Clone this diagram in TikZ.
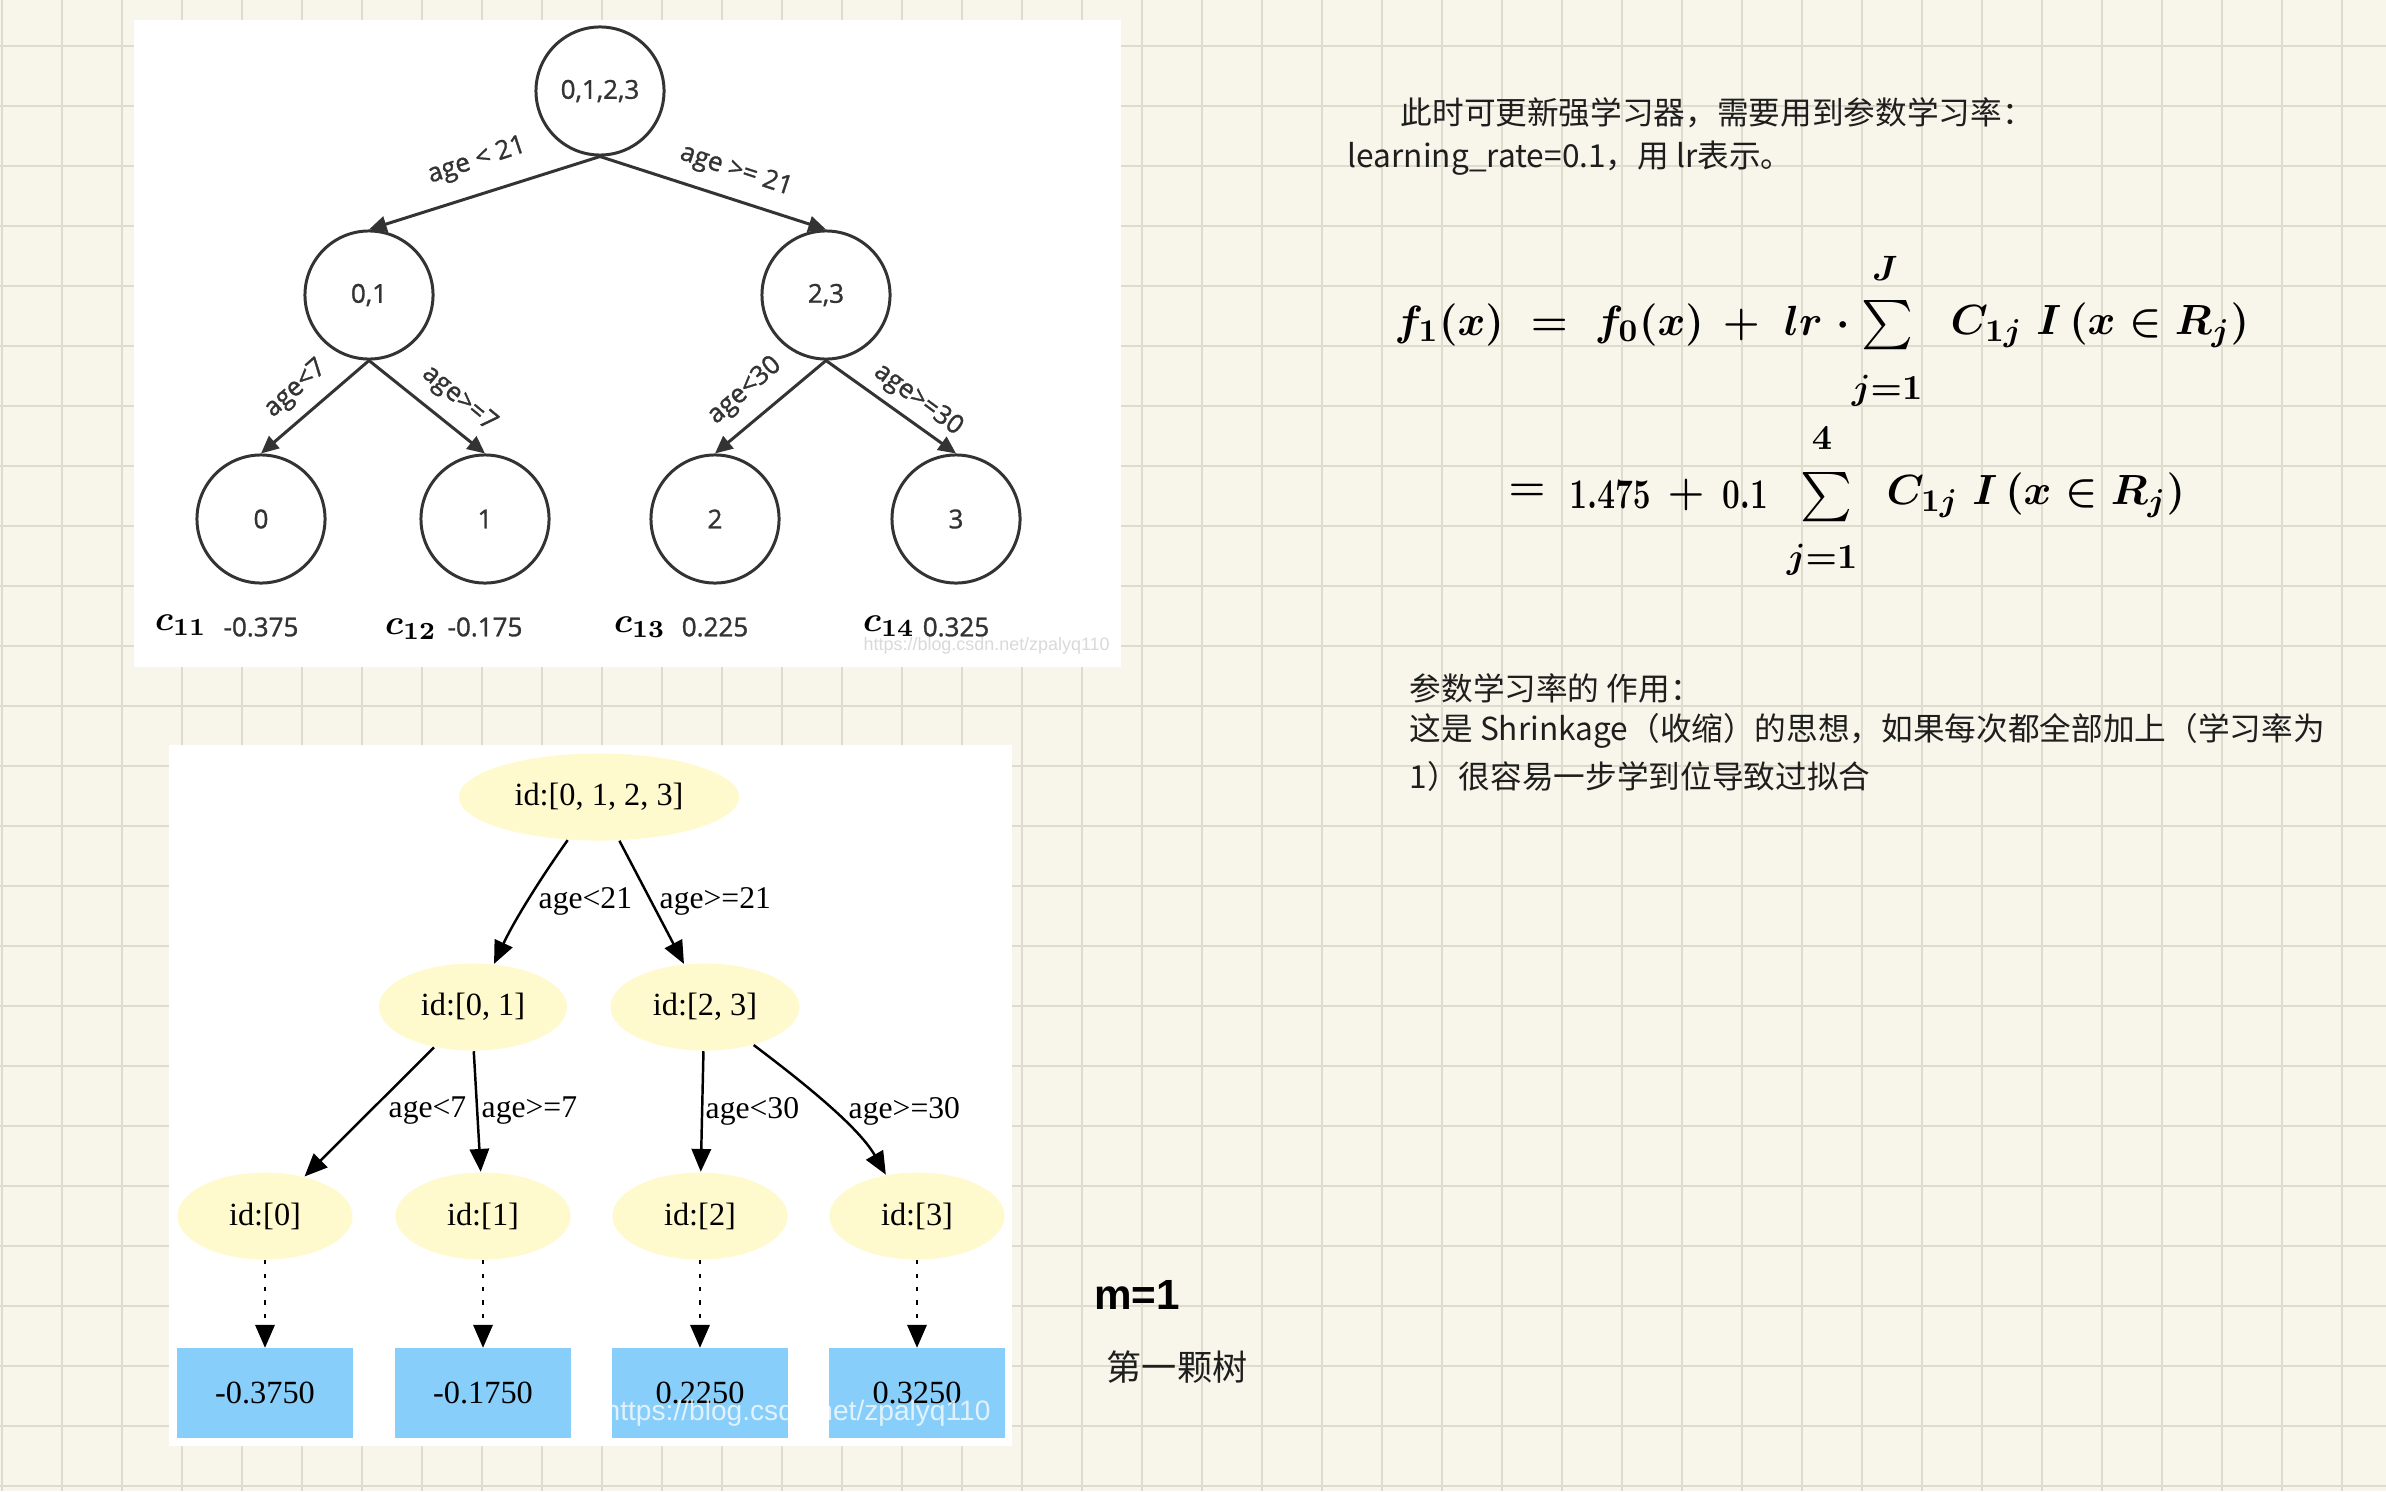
\documentclass[tikz,border=0pt]{standalone}
\usepackage{fontspec}
\usetikzlibrary{arrows.meta,shapes.geometric}
\newfontfamily\cjk{Noto Sans CJK SC}
\newfontfamily\osans[FakeBold=1.2]{Open Sans}
\newfontfamily\tms{Liberation Serif}
\newfontfamily\arl{Liberation Sans}
\definecolor{paper}{HTML}{F8F6EA}
\definecolor{gridc}{HTML}{DEDCCF}
\definecolor{lemon}{HTML}{FFFACD}
\definecolor{skyb}{HTML}{87CEFA}
\definecolor{ink}{HTML}{333333}
\definecolor{txt}{HTML}{1E1E1E}
\tikzset{
  circ/.style={circle, draw=ink, line width=0.85pt, minimum size=1.28cm, inner sep=0pt,
    font=\osans\fontsize{7.4}{9}\selectfont, text=ink},
  tonearrow/.style={draw=ink, line width=0.85pt, -{Triangle[length=5pt,width=4.5pt]}},
  tonelab/.style={font=\osans\fontsize{7.4}{9}\selectfont, text=ink, inner sep=0pt},
  cval/.style={font=\fontsize{10}{12}\selectfont\boldmath, text=black, inner sep=0pt},
  ell/.style={ellipse, fill=lemon, inner sep=0pt, minimum height=0.87cm,
    font=\tms\fontsize{9.2}{11}\selectfont},
  leafbox/.style={rectangle, fill=skyb, inner sep=0pt, minimum width=1.75cm, minimum height=0.89cm,
    font=\tms\fontsize{9.2}{11}\selectfont},
  ttwoarrow/.style={draw=black, line width=0.7pt, -{Triangle[length=6.5pt,width=5.5pt]}},
  dotarrow/.style={draw=black, line width=0.6pt, dash pattern=on 1.2pt off 2.6pt,
    -{Triangle[length=6.5pt,width=5.5pt]}},
  ttwolab/.style={font=\tms\fontsize{9}{11}\selectfont, inner sep=0pt, anchor=west},
  cjktext/.style={font=\cjk\fontsize{9}{11}\selectfont, text=txt, inner sep=0pt, anchor=west},
  fml/.style={font=\fontsize{13}{15}\selectfont\boldmath, text=black, inner sep=0pt},
  fmlnum/.style={font=\fontsize{12}{14}\selectfont\boldmath, text=black, inner sep=0pt},
  fmlsum/.style={font=\fontsize{13}{15}\selectfont\boldmath, text=black, inner sep=0pt},
  fmlsmall/.style={font=\fontsize{10}{12}\selectfont\boldmath, text=black, inner sep=0pt},
}
\begin{document}
\begin{tikzpicture}[x=0.01cm,y=-0.01cm]
\fill[paper] (0,0) rectangle (2386,1491);
\useasboundingbox (0,0) rectangle (2386,1491);
\foreach \i in {0,...,39} \draw[gridc, line width=0.57pt] (2+60*\i,0) -- (2+60*\i,1491);
\foreach \j in {0,...,24} \draw[gridc, line width=0.57pt] (0,46+60*\j) -- (2386,46+60*\j);

% panels
\fill[white] (134,20) rectangle (1121,667);
\fill[white] (169,745) rectangle (1012,1446);

% ---------- tree 1 ----------
\node[circ] (root) at (600,91) {0,1,2,3};
\node[circ] (n01) at (369,295) {0,1};
\node[circ] (n23) at (826,295) {2,3};
\node[circ] (l0) at (261,519) {0};
\node[circ] (l1) at (485,519) {1};
\node[circ] (l2) at (715,519) {2};
\node[circ] (l3) at (956,519) {3};
\draw[tonearrow] (root.south) -- (n01.north);
\draw[tonearrow] (root.south) -- (n23.north);
\draw[tonearrow] (n01.south) -- (l0.north);
\draw[tonearrow] (n01.south) -- (l1.north);
\draw[tonearrow] (n23.south) -- (l2.north);
\draw[tonearrow] (n23.south) -- (l3.north);
\node[tonelab, rotate=18.2] (e1) at (477,161) {age < 21};
\node[tonelab, rotate=-18.2] (e2) at (736,171) {age >= 21};
\node[tonelab, rotate=41.6] (e3) at (296,389) {age<7};
\node[tonelab, rotate=-39.6] (e4) at (459,399) {age>=7};
\node[tonelab, rotate=40.9] (e5) at (745,391) {age<30};
\node[tonelab, rotate=-36.4] (e6) at (918,400) {age>=30};
\node[tonelab] (v0) at (261,627) {-0.375};
\node[tonelab] (v1) at (485,627) {-0.175};
\node[tonelab] (v2) at (715,627) {0.225};
\node[tonelab] (v3) at (956,627) {0.325};
\node[cval] (c11) at (181,625) {$c_{11}$};
\node[cval] (c12) at (411,629) {$c_{12}$};
\node[cval] (c13) at (640,627) {$c_{13}$};
\node[cval] (c14) at (889,626) {$c_{14}$};
\node[font=\arl\fontsize{5.1}{6}\selectfont, text=black!15, inner sep=0pt, anchor=west] (wm1) at (863,646) {https://blog.csdn.net/zpalyq110};

% ---------- tree 2 ----------
\node[ell, minimum width=2.8cm] (r2) at (599,797) {id:[0, 1, 2, 3]};
\node[ell, minimum width=1.88cm] (a2) at (473,1007) {id:[0, 1]};
\node[ell, minimum width=1.89cm] (b2) at (705,1007) {id:[2, 3]};
\node[ell, minimum width=1.75cm] (p0) at (265,1216) {id:[0]};
\node[ell, minimum width=1.75cm] (p1) at (483,1216) {id:[1]};
\node[ell, minimum width=1.75cm] (p2) at (700,1216) {id:[2]};
\node[ell, minimum width=1.75cm] (p3) at (917,1216) {id:[3]};
\node[leafbox] (q0) at (265,1393) {-0.3750};
\node[leafbox] (q1) at (483,1393) {-0.1750};
\node[leafbox] (q2) at (700,1393) {0.2250};
\node[leafbox] (q3) at (917,1393) {0.3250};
\draw[ttwoarrow] (r2.234) .. controls +(-27,38) and +(20,-43) .. (a2.64);
\draw[ttwoarrow] (r2.295) -- (b2.116);
\draw[ttwoarrow] (a2.226) -- (p0.45);
\draw[ttwoarrow] (a2.271) -- (p1.93);
\draw[ttwoarrow] (b2.268) -- (p2.89);
\draw[ttwoarrow] (b2.322) .. controls +(45,34) and +(-28,-49) .. (p3.127);
\node[ttwolab] (m1) at (538,901) {age<21};
\node[ttwolab] (m2) at (659,901) {age>=21};
\node[ttwolab] (m3) at (388,1111) {age<7};
\node[ttwolab] (m4) at (481,1111) {age>=7};
\node[ttwolab] (m5) at (705,1111) {age<30};
\node[ttwolab] (m6) at (848,1111) {age>=30};
\draw[dotarrow] (p0.south) -- (q0.north);
\draw[dotarrow] (p1.south) -- (q1.north);
\draw[dotarrow] (p2.south) -- (q2.north);
\draw[dotarrow] (p3.south) -- (q3.north);
\node[font=\arl\fontsize{8}{9}\selectfont, text=white, opacity=0.75, inner sep=0pt, anchor=west] (wm2) at (604,1413) {https://blog.csdn.net/zpalyq110};

% ---------- right side text ----------
\node[cjktext] (t1) at (1400,113) {此时可更新强学习器，需要用到参数学习率：};
\node[cjktext] (t2) at (1347,158) {learning\_rate=0.1，用 lr表示。};

\node[fml, anchor=west] (f1a) at (1394,325) {$f_1(x) \;=\; f_0(x) \,+\; lr\;\cdot$};
\node[fmlsum] (s1) at (1887,325) {\scalebox{1.4}{$\sum$}};
\node[fmlsmall] (s1t) at (1885,268) {$J$};
\node[fmlsmall] (s1b) at (1887,391) {$j{=}1$};
\node[fml, anchor=west] (f1b) at (1950,325) {$C_{1j}\; I\,(x\in R_j)$};

\node[fml] (eq2) at (1527,492) {$=$};
\node[fmlnum] (k1) at (1610,495) {\scalebox{0.75}[1]{$1.475$}};
\node[fml] (pl2) at (1686,495) {$+$};
\node[fmlnum] (k2) at (1745,495) {\scalebox{0.75}[1]{$0.1$}};
\node[fmlsum] (s2) at (1826,497) {\scalebox{1.4}{$\sum$}};
\node[fmlsmall] (s2t) at (1822,438) {$4$};
\node[fmlsmall] (s2b) at (1822,560) {$j{=}1$};
\node[fml, anchor=west] (f2b) at (1886,495) {$C_{1j}\; I\,(x\in R_j)$};

\node[cjktext] (u1) at (1409,688) {参数学习率的 作用：};
\node[cjktext] (u2) at (1409,731) {这是 Shrinkage（收缩）的思想，如果每次都全部加上（学习率为};
\node[cjktext] (u3) at (1409,776) {1）很容易一步学到位导致过拟合};

\node[font=\arl\bfseries\fontsize{12}{14}\selectfont, inner sep=0pt] (mm) at (1137,1295) {m=1};
\node[font=\cjk\fontsize{10}{12}\selectfont, text=txt, inner sep=0pt] (tree) at (1177,1367) {第一颗树};
\end{tikzpicture}
\end{document}
